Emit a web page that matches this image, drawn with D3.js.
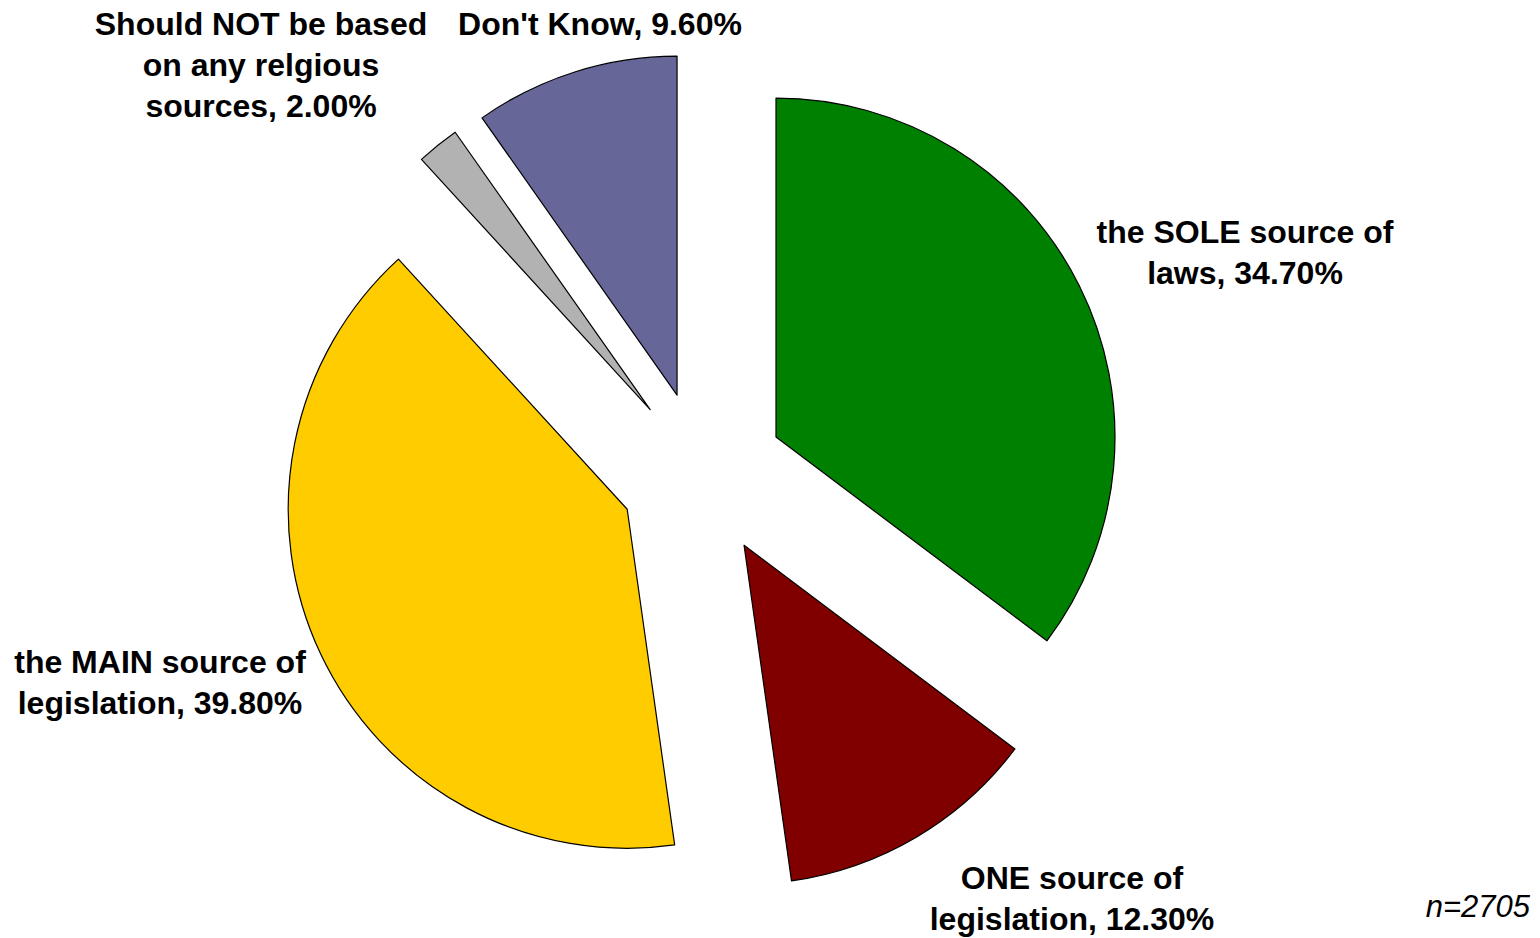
<!DOCTYPE html>
<meta charset="utf-8">
<style>
  body { margin: 0; background: #fff; }
  .slice { stroke: #000; stroke-width: 1.2; stroke-linejoin: round; }
  .lbl { font-family: "Liberation Sans", Arial, sans-serif; font-weight: bold; font-size: 32px; fill: #000; }
  .note { font-family: "Liberation Sans", Arial, sans-serif; font-style: italic; font-size: 31px; fill: #000; }
</style>
<body>
<script src="https://d3js.org/d3.v7.min.js"></script>
<script>

// data, clockwise from 12 o'clock
var labels = [
  ["the SOLE source of", "laws, 34.70%"],
  ["ONE source of", "legislation, 12.30%"],
  ["the MAIN source of", "legislation, 39.80%"],
  ["Should NOT be based", "on any relgious", "sources, 2.00%"],
  ["Don't Know, 9.60%"]
];
var values = [34.7, 12.3, 39.8, 2.0, 9.6];
var colors = ["#008000", "#800000", "#FFCC00", "#B2B2B2", "#666699"];
var sampleNote = "n=2705";

// layout
var width = 1540, height = 938;
var cx = 702, cy = 474, radius = 339, explode = 82.7;
var lineGap = 41;
// label anchor (centre x, first baseline) relative to the pie centre
var labelOffset = [[543, -231], [370, 415], [-542, 199], [-441, -439], [-102, -439]];

var svg = d3.select("body")
            .append("svg")
            .attr("width", width)
            .attr("height", height);

var pie = d3.pie().sort(null).value(function(d) { return d; });
var arc = d3.arc().innerRadius(0).outerRadius(radius);

var arcs = pie(values);

var g = svg.append("g")
           .attr("transform", "translate(" + cx + "," + cy + ")");

g.selectAll("path")
    .data(arcs)
  .enter().append("path")
    .attr("class", "slice")
    .attr("d", arc)
    .attr("fill", function(d, i) { return colors[i]; })
    .attr("transform", function(d) {
      var a = (d.startAngle + d.endAngle) / 2;
      return "translate(" + (Math.sin(a) * explode) + "," + (-Math.cos(a) * explode) + ")";
    });

var txt = g.selectAll("text.lbl")
    .data(arcs)
  .enter().append("text")
    .attr("class", "lbl")
    .attr("text-anchor", "middle")
    .attr("x", function(d, i) { return labelOffset[i][0]; })
    .attr("y", function(d, i) { return labelOffset[i][1]; });

txt.each(function(d, i) {
  var t = d3.select(this);
  labels[i].forEach(function(line, j) {
    t.append("tspan")
      .attr("x", labelOffset[i][0])
      .attr("y", labelOffset[i][1] + j * lineGap)
      .text(line);
  });
});

svg.append("text")
    .attr("class", "note")
    .attr("text-anchor", "end")
    .attr("x", 1530)
    .attr("y", 917)
    .text(sampleNote);

</script>
</body>
</html>
